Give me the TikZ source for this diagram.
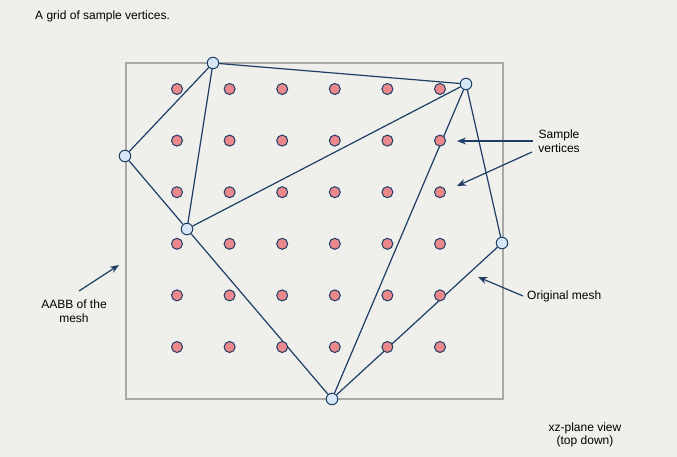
\documentclass[tikz,border=0pt]{standalone}
\usepackage{fontspec}
\setmainfont{Liberation Sans}
\usetikzlibrary{arrows.meta}
\definecolor{paper}{RGB}{239,239,235}
\definecolor{boxgray}{RGB}{168,168,164}
\definecolor{meshblue}{RGB}{30,62,102}
\definecolor{vertblue}{RGB}{214,232,247}
\definecolor{samplered}{RGB}{234,136,140}
\tikzset{
  meshpt/.style={circle, draw=meshblue, fill=vertblue, line width=1pt, minimum size=11.5pt, inner sep=0pt},
  samplept/.style={circle, draw=meshblue, fill=samplered, line width=1pt, minimum size=11pt, inner sep=0pt},
  meshedge/.style={meshblue, line width=1.2pt},
  callout/.style={-{Stealth[length=9pt,width=7pt]}, meshblue, line width=1.2pt},
  lbl/.style={font=\fontsize{12}{13.5}\selectfont, align=center, text=black, inner sep=0pt}
}
\begin{document}
\begin{tikzpicture}[x=1pt, y=-1pt]
                \useasboundingbox [fill=paper] (0, 0) rectangle (677, 457);
                \draw [boxgray, line width=1.5pt] (126, 63) rectangle (503, 399);
                % mesh vertices
                \node [meshpt] (top) at (213, 63) {};
                \node [meshpt] (left) at (125, 156) {};
                \node [meshpt] (mid) at (187, 229) {};
                \node [meshpt] (topright) at (466, 84) {};
                \node [meshpt] (right) at (502, 243) {};
                \node [meshpt] (bottom) at (332, 399) {};
                \draw [meshedge] (top) -- (topright);
                \draw [meshedge] (top) -- (left);
                \draw [meshedge] (top) -- (mid);
                \draw [meshedge] (left) -- (mid);
                \draw [meshedge] (mid) -- (topright);
                \draw [meshedge] (mid) -- (bottom);
                \draw [meshedge] (topright) -- (bottom);
                \draw [meshedge] (topright) -- (right);
                \draw [meshedge] (right) -- (bottom);
                % sample grid
                \foreach \i in {0,...,5} {
                    \foreach \j in {0,...,5} {
                        \node [samplept] (s-\i-\j) at (177 + 52.6*\i, 89 + 51.6*\j) {};
                    }
                }
                % labels
                \node [lbl, anchor=west] (title) at (35, 16) {A grid of sample vertices.};
                \node [lbl] (samples) at (559, 141) {Sample\\vertices};
                \node [lbl] (aabb) at (74, 311) {AABB of the\\mesh};
                \node [lbl, anchor=west] (orig) at (527, 296) {Original mesh};
                \node [lbl] (view) at (585, 435) {xz-plane view\\(top down)};
                % callout arrows
                \coordinate (samptaila) at (533, 141);
                \coordinate (samptailb) at (532, 152);
                \coordinate (aabbtail) at (79, 291);
                \coordinate (origtail) at (523, 296);
                \coordinate (samptipa) at (457, 141);
                \coordinate (samptipb) at (457, 186);
                \coordinate (aabbtip) at (119, 265);
                \coordinate (origtip) at (478, 277);
                \draw [callout] (samptaila) -- (samptipa);
                \draw [callout] (samptailb) -- (samptipb);
                \draw [callout] (aabbtail) -- (aabbtip);
                \draw [callout] (origtail) -- (origtip);
            \end{tikzpicture}
\end{document}
